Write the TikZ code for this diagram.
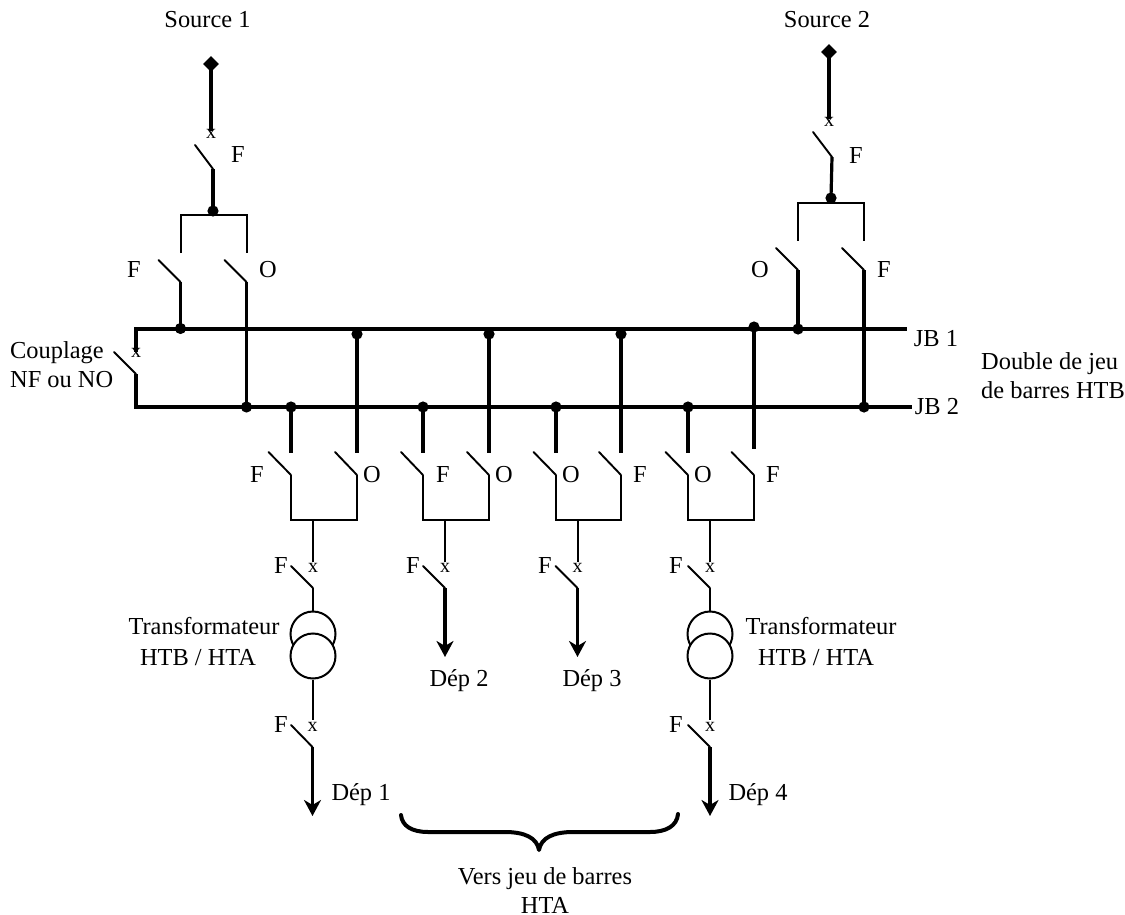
\documentclass[tikz,border=0pt]{standalone}
\usepackage{fontspec}
\setmainfont{Liberation Serif}
\usetikzlibrary{arrows.meta,shapes.geometric}
\tikzset{
  bus/.style={line width=4pt,line cap=butt},
  stem/.style={line width=3.2pt,line cap=butt},
  wire/.style={line width=2pt,line cap=butt,line join=miter},
  blade/.style={line width=1.9pt,line cap=round},
  outcome/.style={line width=3.4pt,-{Stealth[length=16pt,width=17pt,inset=5pt]}},
  junction/.style={circle,fill=black,draw=none,minimum size=11.2pt,inner sep=0pt},
  feed/.style={diamond,fill=black,draw=none,minimum size=16pt,inner sep=0pt},
  coil/.style={circle,draw=black,fill=white,line width=2pt,minimum size=45pt,inner sep=0pt},
  lab/.style={anchor=base,inner sep=0pt,font=\fontsize{24.4}{24.4}\selectfont},
  labl/.style={lab,anchor=base west},
  xmark/.style={anchor=base,inner sep=0pt,font=\fontsize{20}{20}\selectfont},
}
\begin{document}
\begin{tikzpicture}[x=1pt,y=-1pt]
\useasboundingbox (0,0) rectangle (1125,915);
% bus bars
\coordinate (jb1w) at (134,328.5); \coordinate (jb1e) at (907,328.5);
\coordinate (jb2w) at (134,407);   \coordinate (jb2e) at (912,407);
\draw[bus] (jb1w) -- (jb1e);
\draw[bus] (jb2w) -- (jb2e);
% junctions
\node[junction] (a1) at (180.5,328.5) {};
\node[junction] (a2) at (357,334) {};
\node[junction] (a3) at (489,334) {};
\node[junction] (a4) at (621,334) {};
\node[junction] (a5) at (754,327) {};
\node[junction] (a6) at (798,329) {};
\node[junction] (b1) at (246.5,407) {};
\node[junction] (b2) at (291,407) {};
\node[junction] (b3) at (423,407) {};
\node[junction] (b4) at (556,407) {};
\node[junction] (b5) at (688,407) {};
\node[junction] (b6) at (864,407) {};
% coupling
\coordinate (ct) at (136,328.5); \coordinate (cm) at (136,374); \coordinate (cb) at (136,407);
\coordinate (cx) at (136,352); \coordinate (cbl) at (114,352);
\draw[stem] (ct) -- (cx);
\draw[stem] (cm) -- (cb);
\draw[blade] (cbl) -- (cm);
\node[xmark] (cmark) at (136,357) {x};
\node[labl] (couplage) at (10,358) {Couplage};
\node[labl] (nfno) at (10,387) {NF ou NO};
% source 1
\node[feed] (src1) at (211,64) {};
\coordinate (s1x) at (211,131); \coordinate (s1p) at (213,169); \coordinate (s1b) at (195,145);
\node[junction] (s1j) at (213,211) {};
\draw[stem] (src1.center) -- (s1x);
\draw[blade] (s1b) -- (s1p);
\draw[stem] (s1p) -- (s1j.center);
\coordinate (s1l) at (180.5,253); \coordinate (s1r) at (247,253);
\draw[wire] (s1l) -- (180.5,214.7) -- (247,214.7) -- (s1r);
\node[xmark] (s1m) at (211,139) {x};
\coordinate (s1bl) at (158.5,260); \coordinate (s1pl) at (180.5,282);
\coordinate (s1br) at (224.5,260); \coordinate (s1pr) at (246.5,282);
\draw[blade] (s1bl) -- (s1pl);
\draw[blade] (s1br) -- (s1pr);
\draw[stem] (s1pl) -- (a1.center);
\draw[stem] (s1pr) -- (b1.center);
\node[lab] (t1) at (207.5,28) {Source 1};
\node[lab] (t2) at (238,163) {F};
\node[lab] (t3) at (134,277) {F};
\node[lab] (t4) at (268,277) {O};
% source 2
\node[feed] (src2) at (829,52) {};
\coordinate (s2x) at (829,119); \coordinate (s2p) at (832,157); \coordinate (s2b) at (813,132);
\node[junction] (s2j) at (831,198) {};
\draw[stem] (src2.center) -- (s2x);
\draw[blade] (s2b) -- (s2p);
\draw[stem] (s2p) -- (s2j.center);
\coordinate (s2l) at (798,240.5); \coordinate (s2r) at (864,240.5);
\draw[wire] (s2l) -- (798,202.7) -- (864,202.7) -- (s2r);
\node[xmark] (s2m) at (829,127) {x};
\coordinate (s2bl) at (776,248); \coordinate (s2pl) at (798,270);
\coordinate (s2br) at (842,248); \coordinate (s2pr) at (864,270);
\draw[blade] (s2bl) -- (s2pl);
\draw[blade] (s2br) -- (s2pr);
\draw[stem] (s2pl) -- (a6.center);
\draw[stem] (s2pr) -- (b6.center);
\node[lab] (t5) at (827,28) {Source 2};
\node[lab] (t6) at (856,164) {F};
\node[lab] (t7) at (760,277) {O};
\node[lab] (t8) at (884,277) {F};
% bus labels
\node[lab] (jb1t) at (936,346) {JB 1};
\node[lab] (jb2t) at (937,414) {JB 2};
\node[labl] (d1t) at (981,369) {Double de jeu};
\node[labl] (d2t) at (981,398) {de barres HTB};
% group 1
\coordinate (g1lt) at (291,453); \coordinate (g1rt) at (357,453);
\coordinate (g1lp) at (291,475); \coordinate (g1rp) at (357,475);
\coordinate (g1lb) at (268.5,452); \coordinate (g1rb) at (335,452);
\coordinate (g1o) at (313,520);
\draw[stem] (b2.center) -- (g1lt);
\draw[stem] (a2.center) -- (g1rt);
\draw[blade] (g1lb) -- (g1lp);
\draw[blade] (g1rb) -- (g1rp);
\draw[wire] (g1lp) -- (291,520) -- (357,520) -- (g1rp);
\node[lab] (f1) at (257,482) {F};
\node[lab] (o1) at (372,482) {O};
% group 2
\coordinate (g2lt) at (423,453); \coordinate (g2rt) at (489,453);
\coordinate (g2lp) at (423,475); \coordinate (g2rp) at (489,475);
\coordinate (g2lb) at (401,452); \coordinate (g2rb) at (467,452);
\coordinate (g2o) at (445,520);
\draw[stem] (b3.center) -- (g2lt);
\draw[stem] (a3.center) -- (g2rt);
\draw[blade] (g2lb) -- (g2lp);
\draw[blade] (g2rb) -- (g2rp);
\draw[wire] (g2lp) -- (423,520) -- (489,520) -- (g2rp);
\node[lab] (f2) at (443,482) {F};
\node[lab] (o2) at (504,482) {O};
% group 3
\coordinate (g3lt) at (556,453); \coordinate (g3rt) at (621,453);
\coordinate (g3lp) at (556,475); \coordinate (g3rp) at (621,475);
\coordinate (g3lb) at (533.5,452); \coordinate (g3rb) at (599,452);
\coordinate (g3o) at (577.5,520);
\draw[stem] (b4.center) -- (g3lt);
\draw[stem] (a4.center) -- (g3rt);
\draw[blade] (g3lb) -- (g3lp);
\draw[blade] (g3rb) -- (g3rp);
\draw[wire] (g3lp) -- (556,520) -- (621,520) -- (g3rp);
\node[lab] (o3) at (571,482) {O};
\node[lab] (f3) at (640,482) {F};
% group 4
\coordinate (g4lt) at (688,453); \coordinate (g4rt) at (754,449);
\coordinate (g4lp) at (688,475); \coordinate (g4rp) at (754,475);
\coordinate (g4lb) at (665.5,452); \coordinate (g4rb) at (731.5,452);
\coordinate (g4o) at (710,520);
\draw[stem] (b5.center) -- (g4lt);
\draw[stem] (a5.center) -- (g4rt);
\draw[blade] (g4lb) -- (g4lp);
\draw[blade] (g4rb) -- (g4rp);
\draw[wire] (g4lp) -- (688,520) -- (754,520) -- (g4rp);
\node[lab] (o4) at (703,482) {O};
\node[lab] (f4) at (773,482) {F};
% feeder 1 with transformer
\coordinate (h1x) at (313,562); \coordinate (h1b) at (291,566); \coordinate (h1p) at (313,588);
\draw[wire] (g1o) -- (h1x);
\draw[blade] (h1b) -- (h1p);
\node[coil] (tr1a) at (313,634) {};
\node[coil] (tr1b) at (313,656) {};
\draw[wire] (h1p) -- (tr1a.north);
\coordinate (k1x) at (313,720); \coordinate (k1b) at (291,725); \coordinate (k1p) at (312.5,747);
\draw[wire] (tr1b.south) -- (k1x);
\draw[blade] (k1b) -- (k1p);
\coordinate (dep1) at (312.5,816);
\draw[outcome] (k1p) -- (dep1);
\node[xmark] (m1) at (313,572) {x};
\node[xmark] (m2) at (312.5,731) {x};
\node[lab] (f5) at (281,573) {F};
\node[lab] (f6) at (281,732) {F};
\node[lab] (tr1t) at (204,634) {Transformateur};
\node[lab] (tr1u) at (198,665) {HTB / HTA};
\node[lab] (dep1t) at (361,800) {Dép 1};
% feeder 2
\coordinate (h2x) at (445,562); \coordinate (h2b) at (423,566); \coordinate (h2p) at (445,588);
\coordinate (dep2) at (445,657);
\draw[wire] (g2o) -- (h2x);
\draw[blade] (h2b) -- (h2p);
\draw[outcome] (h2p) -- (dep2);
\node[xmark] (m3) at (445,572) {x};
\node[lab] (f7) at (413,573) {F};
\node[lab] (dep2t) at (459,686) {Dép 2};
% feeder 3
\coordinate (h3x) at (577.5,562); \coordinate (h3b) at (555.5,566); \coordinate (h3p) at (577.5,588);
\coordinate (dep3) at (577.5,657);
\draw[wire] (g3o) -- (h3x);
\draw[blade] (h3b) -- (h3p);
\draw[outcome] (h3p) -- (dep3);
\node[xmark] (m4) at (577.5,572) {x};
\node[lab] (f8) at (545,573) {F};
\node[lab] (dep3t) at (592,686) {Dép 3};
% feeder 4 with transformer
\coordinate (h4x) at (710,562); \coordinate (h4b) at (688,566); \coordinate (h4p) at (710,588);
\draw[wire] (g4o) -- (h4x);
\draw[blade] (h4b) -- (h4p);
\node[coil] (tr2a) at (710,634) {};
\node[coil] (tr2b) at (710,656) {};
\draw[wire] (h4p) -- (tr2a.north);
\coordinate (k4x) at (710,720); \coordinate (k4b) at (688,725); \coordinate (k4p) at (710,747);
\draw[wire] (tr2b.south) -- (k4x);
\draw[blade] (k4b) -- (k4p);
\coordinate (dep4) at (710,816);
\draw[outcome] (k4p) -- (dep4);
\node[xmark] (m5) at (710,572) {x};
\node[xmark] (m6) at (710,731) {x};
\node[lab] (f9) at (676,573) {F};
\node[lab] (f10) at (676,732) {F};
\node[lab] (tr2t) at (821,634) {Transformateur};
\node[lab] (tr2u) at (816,665) {HTB / HTA};
\node[lab] (dep4t) at (758,800) {Dép 4};
% brace
\coordinate (brl) at (401,815); \coordinate (brt) at (539,850); \coordinate (brr) at (678,814);
\draw[line width=4pt,line cap=round,line join=round]
  (brl) .. controls (402,826) and (412,832) .. (428,832) -- (505,832)
  .. controls (525,832) and (537,838) .. (brt)
  .. controls (541,838) and (553,832) .. (573,832) -- (650,832)
  .. controls (666,832) and (677,826) .. (brr);
\node[lab] (v1) at (545,884) {Vers jeu de barres};
\node[lab] (v2) at (545,913.5) {HTA};
\end{tikzpicture}
\end{document}
